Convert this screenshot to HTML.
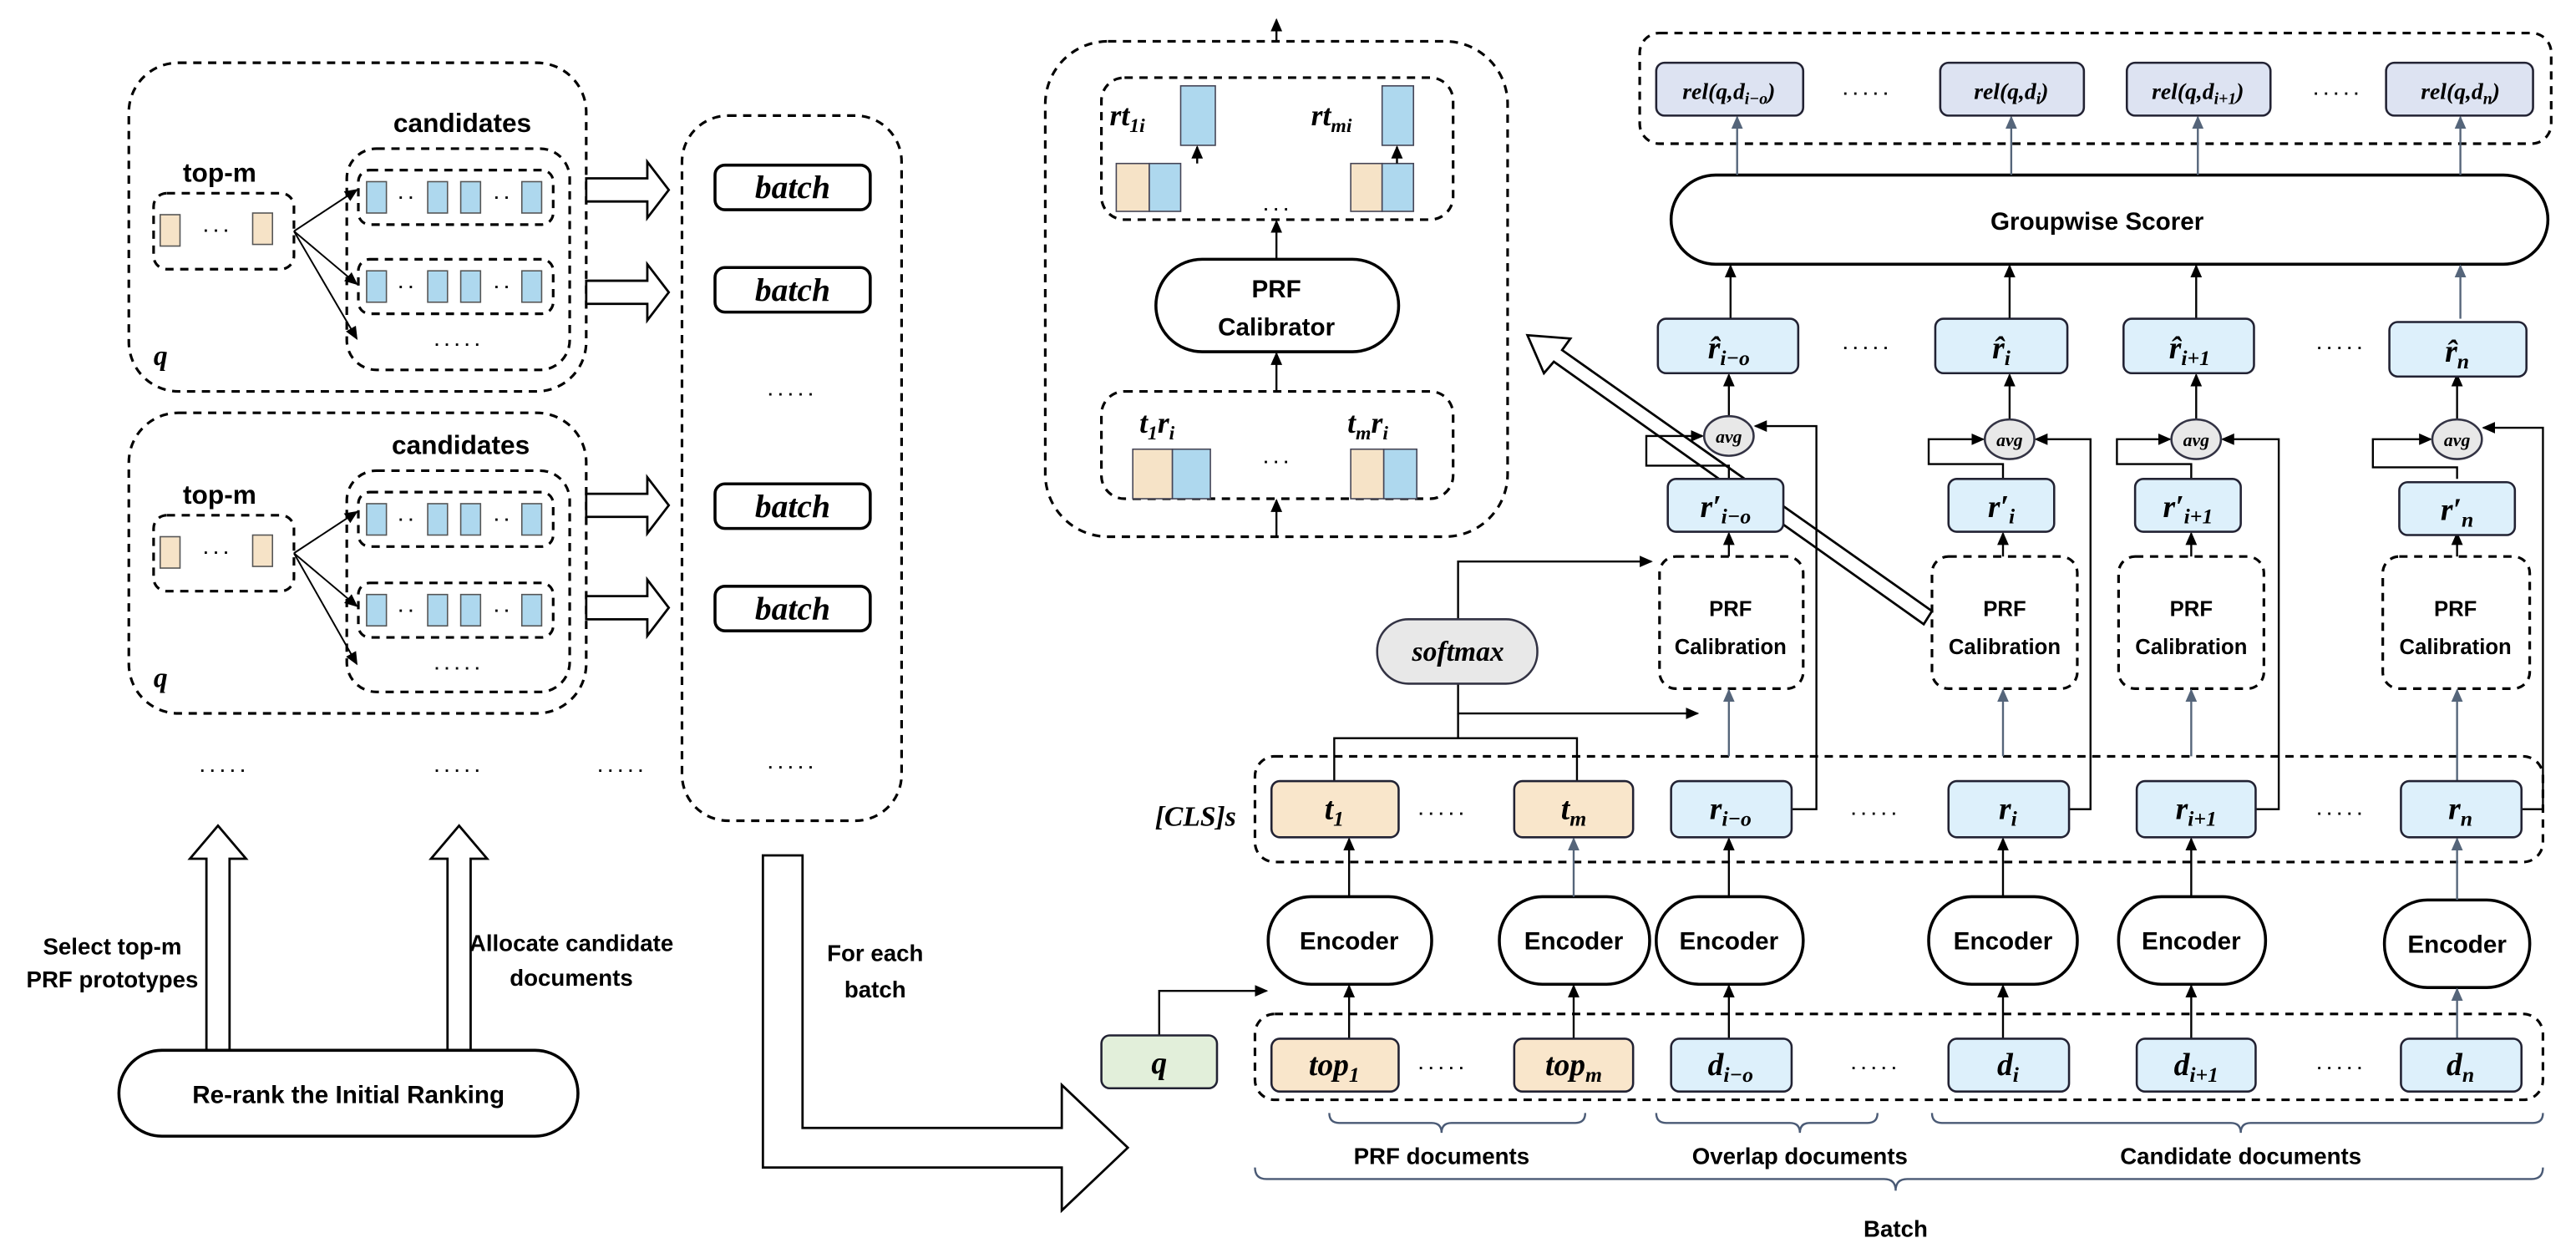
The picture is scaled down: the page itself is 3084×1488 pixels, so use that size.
<!DOCTYPE html>
<html><head><meta charset="utf-8"><style>
html,body{margin:0;padding:0;background:#fff;}
svg{display:block;}
text{font-family:"Liberation Sans",sans-serif;font-weight:bold;fill:#000;}
.m{font-family:"Liberation Serif",serif;font-style:italic;font-weight:bold;}
</style></head><body>
<svg width="3084" height="1488" viewBox="0 0 1560 752.7" xmlns="http://www.w3.org/2000/svg">
<defs>
<marker id="a" markerWidth="8" markerHeight="8" refX="7" refY="4" orient="auto" markerUnits="userSpaceOnUse"><path d="M0,0.5 L8,4 L0,7.5 Z" fill="#000"/></marker>
<marker id="g" markerWidth="8" markerHeight="8" refX="7" refY="4" orient="auto" markerUnits="userSpaceOnUse"><path d="M0,0.5 L8,4 L0,7.5 Z" fill="#55657a"/></marker>
</defs>
<g fill="none" stroke="#000" stroke-width="1.6" stroke-dasharray="5,4">
<rect x="78" y="38" width="277" height="199" rx="30"/>
<rect x="210" y="90" width="135" height="134" rx="18"/>
<rect x="217" y="103" width="118" height="33" rx="7"/>
<rect x="217" y="157" width="118" height="33" rx="7"/>
<rect x="93" y="117" width="85" height="46" rx="8"/>
<rect x="78" y="250" width="277" height="182" rx="30"/>
<rect x="210" y="285" width="135" height="134" rx="18"/>
<rect x="217" y="298" width="118" height="33" rx="7"/>
<rect x="217" y="353" width="118" height="33" rx="7"/>
<rect x="93" y="312" width="85" height="46" rx="8"/>
<rect x="413" y="70" width="133" height="427" rx="28"/>
<rect x="633" y="25" width="280" height="300" rx="38"/>
<rect x="667" y="47" width="213" height="86" rx="14"/>
<rect x="667" y="237" width="213" height="65" rx="14"/>
<rect x="993" y="20" width="552" height="67" rx="12"/>
<rect x="1005" y="337" width="87" height="80" rx="10"/>
<rect x="1170" y="337" width="88" height="80" rx="10"/>
<rect x="1283" y="337" width="88" height="80" rx="10"/>
<rect x="1443" y="337" width="89" height="80" rx="10"/>
<rect x="760" y="458" width="780" height="64" rx="12"/>
<rect x="760" y="614" width="780" height="52" rx="12"/>
</g>
<g font-size="16"><text x="280" y="80" text-anchor="middle">candidates</text><text x="279" y="275" text-anchor="middle">candidates</text>
<text x="133" y="110" text-anchor="middle">top-m</text><text x="133" y="305" text-anchor="middle">top-m</text></g>
<text class="m" x="93" y="221" font-size="17">q</text><text class="m" x="93" y="416" font-size="17">q</text>
<g stroke="#555" stroke-width="0.8">
<g fill="#f6e3c7"><rect x="97" y="130" width="12" height="19"/><rect x="153" y="129" width="12" height="19"/><rect x="97" y="325" width="12" height="19"/><rect x="153" y="324" width="12" height="19"/></g>
<g fill="#aed8ee">
<rect x="222" y="110" width="12" height="19"/><rect x="259" y="110" width="12" height="19"/><rect x="279" y="110" width="12" height="19"/><rect x="316" y="110" width="12" height="19"/>
<rect x="222" y="164" width="12" height="19"/><rect x="259" y="164" width="12" height="19"/><rect x="279" y="164" width="12" height="19"/><rect x="316" y="164" width="12" height="19"/>
<rect x="222" y="305" width="12" height="19"/><rect x="259" y="305" width="12" height="19"/><rect x="279" y="305" width="12" height="19"/><rect x="316" y="305" width="12" height="19"/>
<rect x="222" y="360" width="12" height="19"/><rect x="259" y="360" width="12" height="19"/><rect x="279" y="360" width="12" height="19"/><rect x="316" y="360" width="12" height="19"/>
</g></g>
<g fill="#666" font-size="10" text-anchor="middle"><text x="131" y="143">· · ·</text><text x="131" y="338">· · ·</text>
<text x="246" y="123">· ·</text><text x="304" y="123">· ·</text><text x="246" y="177">· ·</text><text x="304" y="177">· ·</text>
<text x="246" y="318">· ·</text><text x="304" y="318">· ·</text><text x="246" y="373">· ·</text><text x="304" y="373">· ·</text>
<text x="277" y="212">· · · · ·</text><text x="277" y="408">· · · · ·</text>
<text x="479" y="242">· · · · ·</text><text x="479" y="468">· · · · ·</text>
<text x="135" y="470">· · · · ·</text><text x="277" y="470">· · · · ·</text><text x="376" y="470">· · · · ·</text>
<text x="773" y="283">· · ·</text><text x="773" y="130">· · ·</text>
<text x="1130" y="214">· · · · ·</text><text x="1417" y="214">· · · · ·</text><text x="1130" y="60">· · · · ·</text><text x="1415" y="60">· · · · ·</text>
<text x="873" y="496">· · · · ·</text><text x="1135" y="496">· · · · ·</text><text x="1417" y="496">· · · · ·</text>
<text x="873" y="650">· · · · ·</text><text x="1135" y="650">· · · · ·</text><text x="1417" y="650">· · · · ·</text>
</g>
<g stroke="#000" stroke-width="1" marker-end="url(#a)">
<line x1="178" y1="140" x2="216" y2="115"/><line x1="178" y1="140" x2="216" y2="172"/><line x1="178" y1="140" x2="216" y2="205"/>
<line x1="178" y1="335" x2="216" y2="310"/><line x1="178" y1="335" x2="216" y2="367"/><line x1="178" y1="335" x2="216" y2="402"/>
</g>
<g fill="#fff" stroke="#000" stroke-width="1.4">
<path d="M355,108 h37 v-10 l13,17 l-13,17 v-10 h-37 z"/>
<path d="M355,170 h37 v-10 l13,17 l-13,17 v-10 h-37 z"/>
<path d="M355,299 h37 v-10 l13,17 l-13,17 v-10 h-37 z"/>
<path d="M355,361 h37 v-10 l13,17 l-13,17 v-10 h-37 z"/>
<path d="M125,637 v-117 h-10 l17,-20 l17,20 h-10 v117 z"/>
<path d="M271,637 v-117 h-10 l17,-20 l17,20 h-10 v117 z"/>
<path d="M462,518 h24 v165 h157 v-26 l40,38 l-40,38 v-26 h-181 z"/>
<path d="M1170,370 L946,212 L951,205 L925,203 L935,226 L941,219 L1165,378 z"/>
</g>
<g fill="#fff" stroke="#000" stroke-width="1.8">
<rect x="433" y="100" width="94" height="27" rx="6"/><rect x="433" y="162" width="94" height="27" rx="6"/>
<rect x="433" y="293" width="94" height="27" rx="6"/><rect x="433" y="355" width="94" height="27" rx="6"/>
<rect x="72" y="636" width="278" height="52" rx="26"/>
<rect x="700" y="157" width="147" height="56" rx="28"/>
<rect x="1012" y="106" width="531" height="54" rx="27"/>
<rect x="768" y="543" width="99" height="53" rx="26"/><rect x="908" y="543" width="91" height="53" rx="26"/>
<rect x="1003" y="543" width="89" height="53" rx="26"/><rect x="1168" y="543" width="90" height="53" rx="26"/>
<rect x="1283" y="543" width="89" height="53" rx="26"/><rect x="1444" y="545" width="88" height="53" rx="26"/>
</g>
<g class="m" font-size="20" text-anchor="middle"><text class="m" x="480" y="120">batch</text><text class="m" x="480" y="182">batch</text><text class="m" x="480" y="313">batch</text><text class="m" x="480" y="375">batch</text></g>
<g font-size="15" text-anchor="middle">
<text x="211" y="668">Re-rank the Initial Ranking</text>
<text x="68" y="578" font-size="14">Select top-m</text><text x="68" y="598" font-size="14">PRF prototypes</text>
<text x="346" y="576" font-size="14">Allocate candidate</text><text x="346" y="597" font-size="14">documents</text>
<text x="530" y="582" font-size="14">For each</text><text x="530" y="604" font-size="14">batch</text>
<text x="773" y="180">PRF</text><text x="773" y="203">Calibrator</text>
<text x="1270" y="139">Groupwise Scorer</text>
<text x="817" y="575">Encoder</text><text x="953" y="575">Encoder</text><text x="1047" y="575">Encoder</text><text x="1213" y="575">Encoder</text><text x="1327" y="575">Encoder</text><text x="1488" y="577">Encoder</text>
<g font-size="13"><text x="1048" y="373">PRF</text><text x="1048" y="396">Calibration</text><text x="1214" y="373">PRF</text><text x="1214" y="396">Calibration</text>
<text x="1327" y="373">PRF</text><text x="1327" y="396">Calibration</text><text x="1487" y="373">PRF</text><text x="1487" y="396">Calibration</text></g>
<g font-size="14"><text x="873" y="705">PRF documents</text><text x="1090" y="705">Overlap documents</text><text x="1357" y="705">Candidate documents</text><text x="1148" y="749">Batch</text></g>
</g>
<g stroke="#445" stroke-width="0.8">
<rect x="715" y="52" width="21" height="36" fill="#aed8ee"/><rect x="837" y="52" width="19" height="36" fill="#aed8ee"/>
<rect x="676" y="99" width="20" height="29" fill="#f6e3c7"/><rect x="696" y="99" width="19" height="29" fill="#aed8ee"/>
<rect x="818" y="99" width="19" height="29" fill="#f6e3c7"/><rect x="837" y="99" width="19" height="29" fill="#aed8ee"/>
<rect x="686" y="272" width="24" height="30" fill="#f6e3c7"/><rect x="710" y="272" width="23" height="30" fill="#aed8ee"/>
<rect x="818" y="272" width="20" height="30" fill="#f6e3c7"/><rect x="838" y="272" width="20" height="30" fill="#aed8ee"/>
</g>
<g font-size="18"><text class="m" x="672" y="76">rt<tspan font-size="12" dy="4">1i</tspan></text><text class="m" x="794" y="76">rt<tspan font-size="12" dy="4">mi</tspan></text>
<text class="m" x="690" y="262">t<tspan font-size="12" dy="4">1</tspan><tspan dy="-4">r</tspan><tspan font-size="12" dy="4">i</tspan></text>
<text class="m" x="816" y="262">t<tspan font-size="12" dy="4">m</tspan><tspan dy="-4">r</tspan><tspan font-size="12" dy="4">i</tspan></text></g>
<g stroke="#000" stroke-width="1.2" marker-end="url(#a)" fill="none">
<line x1="773" y1="25" x2="773" y2="12"/><line x1="725" y1="99" x2="725" y2="89"/><line x1="846" y1="99" x2="846" y2="89"/>
<line x1="773" y1="157" x2="773" y2="134"/><line x1="773" y1="237" x2="773" y2="214"/><line x1="773" y1="325" x2="773" y2="303"/>
<line x1="1048" y1="193" x2="1048" y2="161"/><line x1="1217" y1="193" x2="1217" y2="161"/><line x1="1330" y1="193" x2="1330" y2="161"/>
<line x1="1047" y1="252" x2="1047" y2="227"/><line x1="1217" y1="254" x2="1217" y2="227"/><line x1="1330" y1="254" x2="1330" y2="227"/><line x1="1488" y1="254" x2="1488" y2="227"/>
<line x1="1047" y1="337" x2="1047" y2="323"/><line x1="1213" y1="337" x2="1213" y2="323"/><line x1="1327" y1="337" x2="1327" y2="323"/><line x1="1488" y1="337" x2="1488" y2="323"/>
<path d="M1047,290 V282 H997 V264 H1031"/><path d="M1085,490 H1100 V258 H1063"/>
<path d="M1213,290 V281 H1168 V266 H1201"/><path d="M1253,490 H1266 V266 H1233"/>
<path d="M1327,290 V281 H1282 V266 H1314"/><path d="M1366,490 H1380 V266 H1346"/>
<path d="M1488,290 V283 H1437 V266 H1472"/><path d="M1527,490 H1540 V259 H1504"/>
<line x1="817" y1="543" x2="817" y2="508"/><line x1="1047" y1="543" x2="1047" y2="508"/><line x1="1213" y1="543" x2="1213" y2="508"/><line x1="1327" y1="543" x2="1327" y2="508"/>
<line x1="817" y1="629" x2="817" y2="597"/><line x1="953" y1="629" x2="953" y2="597"/><line x1="1047" y1="629" x2="1047" y2="597"/><line x1="1213" y1="629" x2="1213" y2="597"/><line x1="1327" y1="629" x2="1327" y2="597"/>
<path d="M702,627 V600 H767"/>
<path d="M883,375 V340 H1000"/><path d="M883,414 V432 H1028"/>
</g>
<g stroke="#000" stroke-width="1.2" fill="none"><path d="M808,473 V447 H955 V473"/><line x1="883" y1="432" x2="883" y2="447"/></g>
<g stroke="#55657a" stroke-width="1.2" marker-end="url(#g)">
<line x1="1052" y1="106" x2="1052" y2="71"/><line x1="1218" y1="106" x2="1218" y2="71"/><line x1="1331" y1="106" x2="1331" y2="71"/><line x1="1490" y1="106" x2="1490" y2="71"/>
<line x1="1490" y1="193" x2="1490" y2="161"/>
<line x1="1047" y1="458" x2="1047" y2="418"/><line x1="1213" y1="458" x2="1213" y2="418"/><line x1="1327" y1="458" x2="1327" y2="418"/><line x1="1488" y1="473" x2="1488" y2="418"/>
<line x1="953" y1="543" x2="953" y2="508"/><line x1="1488" y1="545" x2="1488" y2="508"/><line x1="1488" y1="629" x2="1488" y2="599"/>
</g>
<g fill="#dde3f2" stroke="#223" stroke-width="1.3">
<rect x="1003" y="38" width="89" height="32" rx="5"/><rect x="1175" y="38" width="87" height="32" rx="5"/><rect x="1288" y="38" width="87" height="32" rx="5"/><rect x="1445" y="38" width="89" height="32" rx="5"/>
</g>
<g font-size="14" text-anchor="middle"><text class="m" x="1047" y="60">rel(q,d<tspan font-size="10" dy="3">i−o</tspan><tspan dy="-3">)</tspan></text>
<text class="m" x="1218" y="60">rel(q,d<tspan font-size="10" dy="3">i</tspan><tspan dy="-3">)</tspan></text>
<text class="m" x="1331" y="60">rel(q,d<tspan font-size="10" dy="3">i+1</tspan><tspan dy="-3">)</tspan></text>
<text class="m" x="1490" y="60">rel(q,d<tspan font-size="10" dy="3">n</tspan><tspan dy="-3">)</tspan></text></g>
<g fill="#ddf0fb" stroke="#223" stroke-width="1.3">
<rect x="1004" y="193" width="85" height="33" rx="5"/><rect x="1172" y="193" width="80" height="33" rx="5"/><rect x="1286" y="193" width="79" height="33" rx="5"/><rect x="1447" y="195" width="83" height="33" rx="5"/>
<rect x="1010" y="290" width="70" height="32" rx="5"/><rect x="1180" y="290" width="64" height="32" rx="5"/><rect x="1293" y="290" width="64" height="32" rx="5"/><rect x="1453" y="292" width="70" height="32" rx="5"/>
<rect x="1012" y="473" width="73" height="34" rx="5"/><rect x="1180" y="473" width="73" height="34" rx="5"/><rect x="1294" y="473" width="72" height="34" rx="5"/><rect x="1454" y="473" width="73" height="34" rx="5"/>
<rect x="1012" y="629" width="73" height="32" rx="5"/><rect x="1180" y="629" width="73" height="32" rx="5"/><rect x="1294" y="629" width="72" height="32" rx="5"/><rect x="1454" y="629" width="73" height="32" rx="5"/>
</g>
<g fill="#f9e6cb" stroke="#223" stroke-width="1.3">
<rect x="770" y="473" width="77" height="34" rx="5"/><rect x="917" y="473" width="72" height="34" rx="5"/>
<rect x="770" y="629" width="77" height="32" rx="5"/><rect x="917" y="629" width="72" height="32" rx="5"/>
</g>
<rect x="667" y="627" width="70" height="32" rx="5" fill="#e2efda" stroke="#223" stroke-width="1.3"/>
<g fill="#e8e8e8" stroke="#334" stroke-width="1.3">
<ellipse cx="1047" cy="264" rx="15" ry="12"/><ellipse cx="1217" cy="266" rx="15" ry="12"/><ellipse cx="1330" cy="266" rx="15" ry="12"/><ellipse cx="1488" cy="266" rx="15" ry="12"/>
<rect x="834" y="375" width="97" height="39" rx="19"/>
</g>
<g font-size="11" text-anchor="middle"><text class="m" x="1047" y="268">avg</text><text class="m" x="1217" y="270">avg</text><text class="m" x="1330" y="270">avg</text><text class="m" x="1488" y="270">avg</text></g>
<text class="m" x="883" y="400" font-size="17" text-anchor="middle">softmax</text>
<g font-size="19" text-anchor="middle">
<text class="m" x="1047" y="217">r̂<tspan font-size="13" dy="4">i−o</tspan></text>
<text class="m" x="1212" y="217">r̂<tspan font-size="13" dy="4">i</tspan></text>
<text class="m" x="1326" y="217">r̂<tspan font-size="13" dy="4">i+1</tspan></text>
<text class="m" x="1488" y="219">r̂<tspan font-size="13" dy="4">n</tspan></text>
<text class="m" x="1045" y="313">r′<tspan font-size="13" dy="4">i−o</tspan></text>
<text class="m" x="1212" y="313">r′<tspan font-size="13" dy="4">i</tspan></text>
<text class="m" x="1325" y="313">r′<tspan font-size="13" dy="4">i+1</tspan></text>
<text class="m" x="1488" y="315">r′<tspan font-size="13" dy="4">n</tspan></text>
<text class="m" x="808" y="496">t<tspan font-size="13" dy="4">1</tspan></text>
<text class="m" x="953" y="496">t<tspan font-size="13" dy="4">m</tspan></text>
<text class="m" x="1048" y="496">r<tspan font-size="13" dy="4">i−o</tspan></text>
<text class="m" x="1216" y="496">r<tspan font-size="13" dy="4">i</tspan></text>
<text class="m" x="1330" y="496">r<tspan font-size="13" dy="4">i+1</tspan></text>
<text class="m" x="1490" y="496">r<tspan font-size="13" dy="4">n</tspan></text>
<text class="m" x="702" y="650">q</text>
<text class="m" x="808" y="651">top<tspan font-size="13" dy="4">1</tspan></text>
<text class="m" x="953" y="651">top<tspan font-size="13" dy="4">m</tspan></text>
<text class="m" x="1048" y="651">d<tspan font-size="13" dy="4">i−o</tspan></text>
<text class="m" x="1216" y="651">d<tspan font-size="13" dy="4">i</tspan></text>
<text class="m" x="1330" y="651">d<tspan font-size="13" dy="4">i+1</tspan></text>
<text class="m" x="1490" y="651">d<tspan font-size="13" dy="4">n</tspan></text>
<text class="m" x="724" y="500" font-size="17">[CLS]s</text>
</g>
<g fill="none" stroke="#4a5a75" stroke-width="1.2">
<path d="M805,674 q0,6 6,6 h56 q6,0 6,6 q0,-6 6,-6 h75 q6,0 6,-6"/>
<path d="M1003,674 q0,6 6,6 h75 q6,0 6,6 q0,-6 6,-6 h35 q6,0 6,-6"/>
<path d="M1170,674 q0,6 6,6 h175 q6,0 6,6 q0,-6 6,-6 h171 q6,0 6,-6"/>
<path d="M760,707 q0,7 7,7 h374 q7,0 7,7 q0,-7 7,-7 h378 q7,0 7,-7"/>
</g>
</svg>
</body></html>
